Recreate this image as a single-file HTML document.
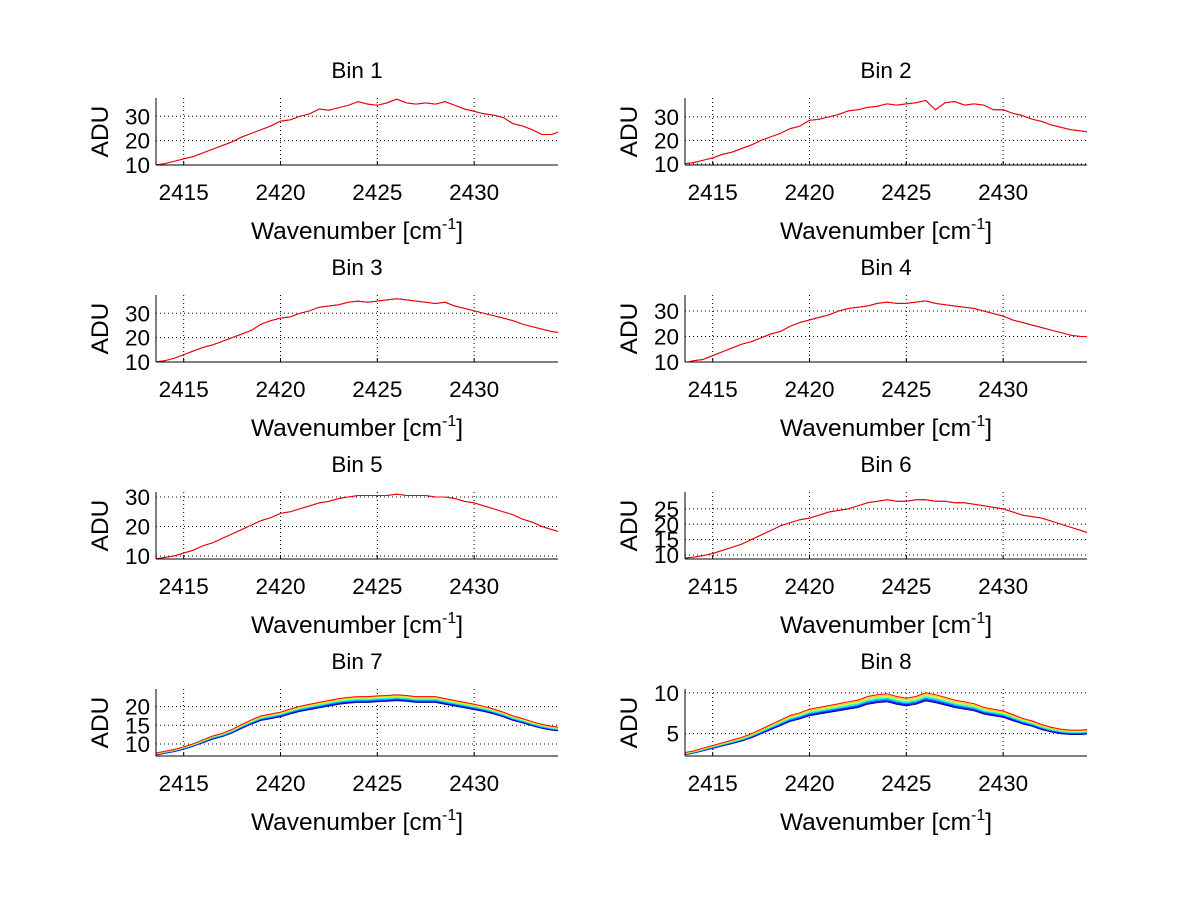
<!DOCTYPE html>
<html><head><meta charset="utf-8">
<style>
html,body{margin:0;padding:0;background:#fff;}
svg text{font-family:"Liberation Sans",sans-serif;fill:#000;}
</style></head>
<body>
<svg id="fig" width="1200" height="901" viewBox="0 0 1200 901" xmlns="http://www.w3.org/2000/svg"></svg>
<script>
const wavenumbers = [2413.5,2414,2414.5,2415,2415.5,2416,2416.5,2417,2417.5,2418,2418.5,2419,2419.5,2420,2420.5,2421,2421.5,2422,2422.5,2423,2423.5,2424,2424.5,2425,2425.5,2426,2426.5,2427,2427.5,2428,2428.5,2429,2429.5,2430,2430.5,2431,2431.5,2432,2432.5,2433,2433.5,2434,2434.5];
const bin1 = [10,10.5,11.5,12.5,13.5,15,16.5,18,19.5,21.5,23,24.5,26,28,28.5,30,31,33,32.5,33.5,34.5,36,35,34.5,35.5,37,35.5,35,35.5,35,36,34.5,33,32,31,30.5,29.5,27,26,24.5,22.5,22.5,24];
const bin2 = [10,10.5,11.5,12.5,14,15,16.5,18,20,21.5,23,25,26,28.5,29,30,31,32.5,33,34,34.5,35.5,35,35.5,36,37,33,36,36.5,35,35.5,35,33,33,31.5,30.5,29,28,26.5,25.5,24.5,24,23.5];
const bin3 = [10,10.5,11.5,13,14.5,16,17,18.5,20,21.5,23,25.5,27,28,28.5,30,31,32.5,33,33.5,34.5,35,34.5,35,35.5,36,35.5,35,34.5,34,34.5,33,32,31,30,29,28,27,25.5,24.5,23.5,22.5,22];
const bin4 = [9.5,10.5,11,12.5,14,15.5,17,18,19.5,21,22,24,25.5,26.5,27.5,28.5,30,31,31.5,32,33,33.5,33,33,33.5,34,33,32.5,32,31.5,31,30,29,28,26.5,25.5,24.5,23.5,22.5,21.5,20.5,20,20];
const bin5 = [9,9.5,10,11,12,13.5,14.5,16,17.5,19,20.5,22,23,24.5,25,26,27,28,28.5,29.5,30,30.5,30.5,30.5,30.5,31,30.5,30.5,30.5,30,30,29.5,28.5,28,27,26,25,24,22.5,21.5,20,19,18];
const bin6 = [9,9.3,9.8,10.5,11.5,12.5,13.5,15,16.5,18,19.5,20.5,21.5,22,23,24,24.5,25,26,27,27.5,28,27.5,27.5,28,28,27.5,27.5,27,27,26.5,26,25.5,25,24,23,22.5,22,21,20,19,18,17];
const bin7 = [7.3,7.8,8.3,9,9.8,10.8,11.8,12.5,13.5,14.8,16,17,17.5,18,18.8,19.5,20,20.5,21,21.5,21.8,22,22,22.2,22.3,22.5,22.3,22,22,22,21.5,21,20.5,20,19.5,18.8,18,17,16.3,15.5,14.8,14.3,14];
const bin8 = [2.4,2.6,2.9,3.2,3.5,3.8,4.1,4.5,5,5.5,6,6.5,6.8,7.2,7.4,7.6,7.8,8,8.2,8.6,8.8,8.9,8.6,8.4,8.6,9,8.8,8.5,8.2,8,7.8,7.4,7.2,7,6.6,6.2,5.9,5.5,5.2,5,4.9,4.9,5];
const seriesFactors7 = [0.96,0.97,0.98,0.99,1.0,1.01,1.02,1.03];
const seriesFactors8 = [1.0,1.015,1.03,1.045,1.06,1.075,1.09,1.11];
const seriesColors = ["#00008f","#0000ff","#0070ff","#00dfff","#50ffaf","#c0ff40","#ffd000","#ff0000"];
const xTicks = [2415,2420,2425,2430];
const panelTitles = ["Bin 1","Bin 2","Bin 3","Bin 4","Bin 5","Bin 6","Bin 7","Bin 8"];
const panelData = [bin1,bin2,bin3,bin4,bin5,bin6,bin7,bin8];
const yRanges = [[10,37.5],[9.5,38],[10,37.5],[10,36.3],[9,31.7],[8.7,30.5],[6.8,24.7],[2.27,10.46]];
const yTicks = [[10,20,30],[10,20,30],[10,20,30],[10,20,30],[10,20,30],[10,15,20,25],[10,15,20],[5,10]];
const xRange = [2413.57,2434.33];

const NS="http://www.w3.org/2000/svg";
const svg=document.getElementById('fig');
function mk(tag,attrs,parent){const e=document.createElementNS(NS,tag);for(const k in attrs)e.setAttribute(k,attrs[k]);(parent||svg).appendChild(e);return e;}
const lefts=[156,685], tops=[98,295,492,689], W=402, H=67;
panelData.forEach((data,i)=>{
  const L=lefts[i%2], T=tops[Math.floor(i/2)], B=T+H, R=L+W;
  const g=mk('g',{});
  
  
  const xs=v=>L+(v-xRange[0])/(xRange[1]-xRange[0])*W;
  const ys=v=>B-(v-yRanges[i][0])/(yRanges[i][1]-yRanges[i][0])*H;
  const cp=mk('clipPath',{id:'c'+i},g); mk('rect',{x:L,y:T,width:W,height:H},cp);
  xTicks.forEach(t=>{const x=xs(t);
    const gl=mk('line',{x1:x,y1:T,x2:x,y2:B,stroke:'#000','stroke-width':1,'stroke-dasharray':'1,3'},g);
    
    
    mk('line',{x1:x,y1:B,x2:x,y2:B-4,stroke:'#000'},g);
    const tl=mk('text',{x:x,y:B+35,'font-size':22.5,'text-anchor':'middle'},g); tl.textContent=t;
    
    
  });
  yTicks[i].forEach(t=>{const y=ys(t);
    const gl=mk('line',{x1:L,y1:y,x2:R,y2:y,stroke:'#000','stroke-width':1,'stroke-dasharray':'1,3'},g);
    
    
    const tl=mk('text',{x:L-6,y:y+8,'font-size':22.5,'text-anchor':'end'},g); tl.textContent=t;
    
    
  });
  const factors = i===6?seriesFactors7:(i===7?seriesFactors8:[1,1]);
  const cols = (i>=6)?seriesColors:["#400060","#ff0000"];
  factors.forEach((f,k)=>{
    const pts=data.map((v,j)=>xs(wavenumbers[j]).toFixed(1)+','+ys(v*f).toFixed(1)).join(' ');
    const pl=mk('polyline',{points:pts,fill:'none',stroke:cols[k],'stroke-width':1,'clip-path':'url(#c'+i+')'},g);
    
    
  });
  mk('line',{x1:L,y1:T,x2:L,y2:B,stroke:'#000'},g);
  mk('line',{x1:L,y1:B,x2:R,y2:B,stroke:'#000'},g);
  const tt=mk('text',{x:L+W/2,y:T-20,'font-size':22.5,'text-anchor':'middle'},g); tt.textContent=panelTitles[i];
  
  
  const xl=mk('text',{x:L+W/2,y:B+74,'font-size':24.5,'text-anchor':'middle'},g);
  xl.innerHTML='Wavenumber [cm<tspan font-size="16" dy="-10">-1</tspan><tspan dy="10">]</tspan>';
  
  
  const cy=T+H/2;
  const yl=mk('text',{x:L-48,y:cy,'font-size':24.5,'text-anchor':'middle',transform:'rotate(-90 '+(L-48)+' '+cy+')'},g);
  yl.textContent='ADU';
  
  
});
</script>
</body></html>
